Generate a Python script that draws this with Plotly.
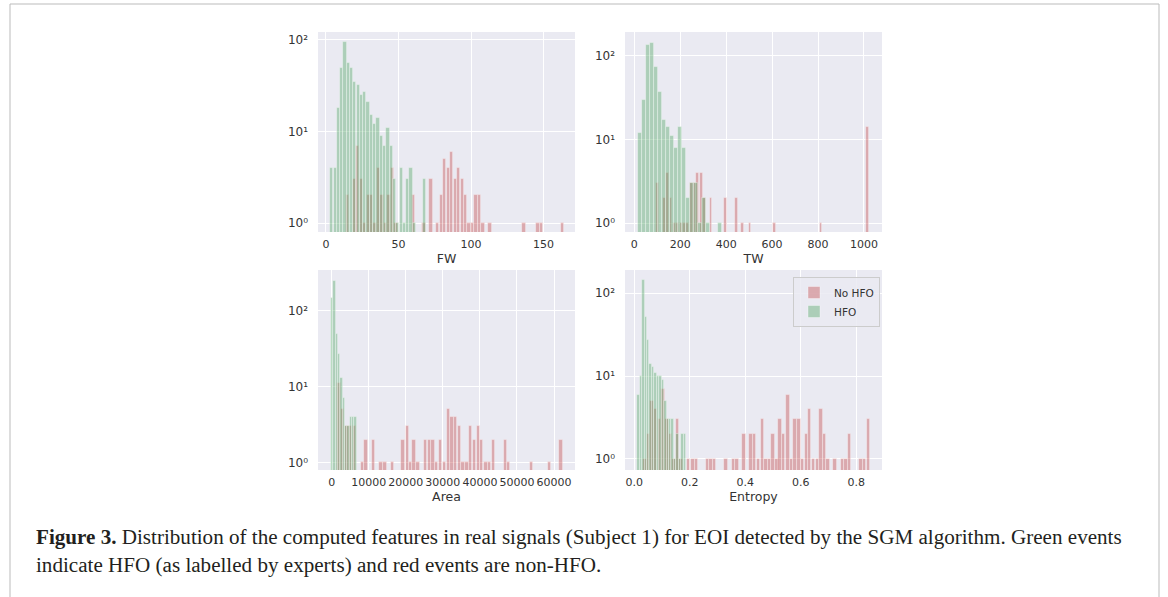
import plotly.graph_objects as go

W, H = 1168, 597
RED = "rgba(196,78,82,0.42)"
GREEN = "rgba(85,168,104,0.42)"
EDGE = "rgba(255,255,255,0.45)"
BG = "#EAEAF2"

# ---------------- data (bin centres and counts) ----------------
# FW
fw_no_x = [14.7, 19.5, 21.9, 24.3, 26.7, 29.1, 31.5, 33.9, 36.3, 38.7, 41.1, 43.5, 45.9, 48.3,
           60.3, 67.5, 72.3, 77.1, 79.5, 81.9, 84.3, 86.7, 89.1, 91.5, 93.9, 96.3, 98.7,
           101.1, 103.5, 105.9, 108.3, 113.1, 136.5, 146.1, 148.5, 162.9]
fw_no_y = [2, 3, 7, 3, 1, 2, 2, 1, 4, 2, 1, 2, 4, 1,
           2, 1, 3, 1, 2, 5, 4, 6, 3, 4, 3, 2, 1,
           1, 2, 2, 1, 1, 1, 1, 1, 1]
fw_hfo_x = [4.0, 6.3, 8.6, 10.8, 13.1, 15.4, 17.7, 19.9, 22.2, 24.5, 26.8, 29.0, 31.3, 33.6,
            35.9, 38.1, 40.4, 42.7, 45.0, 47.2, 49.5, 51.8, 54.1, 56.3, 58.6, 60.9, 67.7]
fw_hfo_y = [4, 4, 18, 49, 95, 56, 50, 35, 32, 25, 27, 21, 15, 12,
            14, 9, 7, 11, 7, 3, 1, 4, 1, 3, 4, 1, 3]

# TW
tw_no_x = [100, 130, 145, 160, 175, 189, 204, 218, 233, 248, 263, 277, 292, 307, 334,
           397, 445, 472, 504, 611, 813, 1015]
tw_no_y = [3, 2, 4, 2, 1, 1, 1, 1, 1, 3, 3, 4, 4, 2, 2,
           2, 2, 1, 1, 1, 1, 14]
tw_hfo_x = [24.8, 42.2, 59.6, 77.0, 94.4, 111.8, 129.2, 146.6, 164.0, 181.4, 198.8, 216.2,
            233.6, 251.0, 268.4, 285.8, 303.2, 320.6, 372.8]
tw_hfo_y = [12, 30, 134, 143, 73, 37, 17, 14, 11, 8, 14, 8,
            2, 3, 3, 1, 2, 1, 1]

# Area
area_no_x = [2000, 3000, 4100, 5100, 6100, 8360, 9260, 11240, 13300, 14390, 16360,
             19200, 20400, 21270, 22210, 23290, 25270, 26350, 27340, 28290, 29410, 30450,
             31570, 32470, 33370, 34450, 35390, 36520, 37510, 38590, 39530, 40480, 41650,
             42550, 43620, 46860, 47760, 53840, 58740, 61890]
area_no_y = [11, 5, 3, 3, 3, 1, 2, 2, 1, 1, 1,
             2, 3, 1, 2, 1, 2, 2, 2, 1, 2, 1,
             5, 4, 4, 3, 1, 1, 3, 2, 3, 2, 1,
             1, 2, 2, 1, 1, 1, 2]
area_hfo_x = [130, 760, 1390, 2020, 2650, 3280, 3910, 4540, 5170, 5800, 6430]
area_hfo_y = [145, 246, 50, 27, 13, 7, 3, 3, 4, 4, 4]

# Entropy
ent_no_x = [0.038, 0.051, 0.064, 0.077, 0.090, 0.104, 0.117, 0.130, 0.143, 0.156, 0.169,
            0.195, 0.211, 0.225, 0.264, 0.277, 0.290, 0.330, 0.357, 0.370, 0.396, 0.420,
            0.433, 0.448, 0.462, 0.474, 0.488, 0.500, 0.514, 0.526, 0.538, 0.554, 0.566,
            0.580, 0.593, 0.607, 0.620, 0.632, 0.646, 0.661, 0.673, 0.686, 0.698, 0.724,
            0.751, 0.764, 0.776, 0.817, 0.830, 0.844]
ent_no_y = [1, 2, 5, 4, 3, 7, 3, 2, 1, 3, 1,
            1, 1, 1, 1, 1, 1, 1, 1, 1, 2, 2,
            2, 1, 3, 1, 1, 2, 1, 3, 2, 6, 1,
            3, 3, 1, 2, 4, 1, 1, 4, 2, 1, 1,
            1, 1, 2, 1, 1, 3]
ent_hfo_x = [0.015, 0.024, 0.033, 0.041, 0.050, 0.059, 0.068, 0.077, 0.085, 0.094, 0.103,
             0.112, 0.121, 0.129, 0.138, 0.147, 0.156, 0.165, 0.174, 0.182]
ent_hfo_y = [6, 10, 145, 52, 27, 14, 13, 11, 10, 10, 9, 5, 3, 3, 3, 1, 2, 1, 2, 2]

panels = [
    dict(no=(fw_no_x, fw_no_y, 2.3), hfo=(fw_hfo_x, fw_hfo_y, 2.2), title="FW",
         xr=[-5.5, 171.7], yr=[-0.098, 2.087], tv=[0, 50, 100, 150], tt=None),
    dict(no=(tw_no_x, tw_no_y, 12.5), hfo=(tw_hfo_x, tw_hfo_y, 17.0), title="TW",
         xr=[-40.5, 1078.6], yr=[-0.104, 2.283], tv=[0, 200, 400, 600, 800, 1000], tt=None),
    dict(no=(area_no_x, area_no_y, 900), hfo=(area_hfo_x, area_hfo_y, 620), title="Area",
         xr=[-3700, 65660], yr=[-0.10, 2.537], tv=[0, 10000, 20000, 30000, 40000, 50000, 60000], tt=None),
    dict(no=(ent_no_x, ent_no_y, 0.0125), hfo=(ent_hfo_x, ent_hfo_y, 0.0086), title="Entropy",
         xr=[-0.0336, 0.893], yr=[-0.133, 2.281], tv=[0, 0.2, 0.4, 0.6, 0.8],
         tt=["0.0", "0.2", "0.4", "0.6", "0.8"]),
]

# plot-area boxes in pixels (left, right, top, bottom)
boxes = [(318, 575, 32, 232), (625, 882, 32, 232), (318, 575, 270, 470), (625, 882, 270, 470)]

TXT = "#333333"
fig = go.Figure()
layout = dict(
    width=W, height=H, autosize=False, margin=dict(l=0, r=0, t=0, b=0, autoexpand=False),
    paper_bgcolor="white", plot_bgcolor=BG, barmode="overlay", bargap=0,
    font=dict(family="DejaVu Sans", size=11, color=TXT),
    showlegend=True,
    legend=dict(x=793 / W, y=1 - 277 / H, xanchor="left", yanchor="top",
                bgcolor="rgba(234,234,242,0.85)", bordercolor="#CCCCCC", borderwidth=1,
                font=dict(family="DejaVu Sans", size=10.5, color=TXT),
                itemwidth=30, tracegroupgap=0),
)

for i, p in enumerate(panels):
    k = "" if i == 0 else str(i + 1)
    xa, ya = "x" + k, "y" + k
    for key, name, col in (("no", "No HFO", RED), ("hfo", "HFO", GREEN)):
        xs, ys, w = p[key]
        fig.add_trace(go.Bar(
            x=xs, y=ys, width=w, name=name, marker=dict(color=col, line=dict(width=0.8, color=EDGE)),
            xaxis=xa, yaxis=ya, showlegend=(i == 3), legendgroup=name,
        ))
    l, r, t, b = boxes[i]
    layout["xaxis" + k] = dict(
        domain=[l / W, r / W], anchor=ya, range=p["xr"], tickvals=p["tv"],
        ticktext=p["tt"] if p["tt"] else [str(v) for v in p["tv"]],
        tickfont=dict(size=11, color=TXT), tickangle=0, automargin=False,
        showgrid=True, gridcolor="white", gridwidth=1.2, zeroline=False, showline=False,
        ticks="", ticklabelstandoff=4,
        title=dict(text=p["title"], font=dict(size=12.5, color=TXT), standoff=4),
    )
    layout["yaxis" + k] = dict(
        domain=[1 - b / H, 1 - t / H], anchor=xa, type="log", range=p["yr"],
        tickvals=[1, 10, 100], ticktext=["10⁰", "10¹", "10²"],
        tickfont=dict(size=12, color=TXT), automargin=False,
        showgrid=True, gridcolor="white", gridwidth=1.2, zeroline=False, showline=False,
        ticks="", ticklabelstandoff=9,
    )

fig.update_layout(**layout)

# caption
CAP = dict(family="Liberation Serif", size=21.1, color="#231F20")
fig.add_annotation(x=34 / W, y=1 - 537 / H, xref="paper", yref="paper", xanchor="left", yanchor="middle",
                   showarrow=False, align="left",
                   text="<b>Figure 3.</b> Distribution of the computed features in real signals (Subject 1) for EOI detected by the SGM algorithm. Green events",
                   font=CAP)
fig.add_annotation(x=34 / W, y=1 - 565 / H, xref="paper", yref="paper", xanchor="left", yanchor="middle",
                   showarrow=False, align="left",
                   text="indicate HFO (as labelled by experts) and red events are non-HFO.",
                   font=CAP)

# frame around the figure
fig.add_shape(type="rect", xref="paper", yref="paper", x0=10 / W, x1=1159 / W, y0=-0.02, y1=1 - 4 / H,
              line=dict(color="#BBBBBB", width=1), fillcolor="rgba(0,0,0,0)", layer="below")

fig.write_html("out.html", config={"responsive": False})
